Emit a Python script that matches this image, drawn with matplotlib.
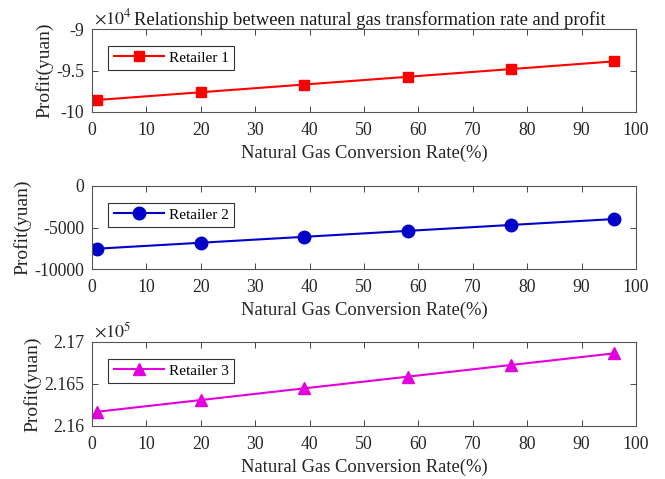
import matplotlib
matplotlib.use("Agg")
import matplotlib.pyplot as plt

plt.rcParams['font.family'] = ['Liberation Serif', 'DejaVu Serif']
plt.rcParams['mathtext.fontset'] = 'stix'

rate = [1, 20, 39, 58, 77, 96]
profit1 = [-98550, -97620, -96690, -95760, -94830, -93900]
profit2 = [-7550, -6836, -6122, -5408, -4694, -3980]
profit3 = [216170, 216309, 216448, 216587, 216726, 216865]

xticks = [0, 10, 20, 30, 40, 50, 60, 70, 80, 90, 100]
yticks1 = [-100000, -95000, -90000]
ylabels1 = ['-10', '-9.5', '-9']
yticks2 = [-10000, -5000, 0]
ylabels2 = ['-10000', '-5000', '0']
yticks3 = [216000, 216500, 217000]
ylabels3 = ['2.16', '2.165', '2.17']

fig = plt.figure(figsize=(6.65, 4.79), dpi=100)
W, H = 665, 479
def rect(l, t, r, b):
    return [l / W, 1 - b / H, (r - l) / W, (b - t) / H]

ax1 = fig.add_axes(rect(92, 29, 636, 112))
ax2 = fig.add_axes(rect(92, 186, 636, 269))
ax3 = fig.add_axes(rect(92, 342, 636, 426))

specs = [
    (ax1, profit1, '#FF0000', 's', 7, 'Retailer 1', yticks1, ylabels1, r'$\times10^{4}$'),
    (ax2, profit2, '#0000C8', 'o', 9, 'Retailer 2', yticks2, ylabels2, None),
    (ax3, profit3, '#E400DC', '^', 9, 'Retailer 3', yticks3, ylabels3, r'$\times10^{5}$'),
]

for ax, data, col, mk, ms, lab, yt, yl, off in specs:
    ax.plot(rate, data, color=col, marker=mk, markersize=ms, linewidth=1.5, label=lab)
    ax.set_xlim(0, 100)
    ax.set_ylim(yt[0], yt[-1])
    ax.set_xticks(xticks)
    ax.set_yticks(yt)
    ax.set_yticklabels(yl)
    ax.tick_params(direction='in', length=4, width=0.6, top=True, right=True,
                   labelsize=12.8, colors='#262626')
    ax.tick_params(axis='x', pad=7.5)
    ax.tick_params(axis='y', pad=5.5)
    for s in ax.spines.values():
        s.set_color('#555555')
        s.set_linewidth(0.8)
    ax.set_xlabel('Natural Gas Conversion Rate(%)', fontsize=13.4, labelpad=4,
                  color='#262626')
    ax.set_ylabel('Profit(yuan)', fontsize=14, labelpad=2, color='#262626')
    leg = ax.legend(loc='upper left', bbox_to_anchor=(0.03, 0.8), fontsize=11,
                    fancybox=False, framealpha=1, edgecolor='#333333',
                    handlelength=3.3, borderpad=0.35, handletextpad=0.3,
                    borderaxespad=0)
    leg.get_frame().set_linewidth(0.8)
    if off:
        ax.text(0.003, 1.01, off, transform=ax.transAxes, fontsize=13,
                ha='left', va='bottom', color='#262626')

ax1.set_title('Relationship between natural gas transformation rate and profit',
              fontsize=13.4, pad=3, x=0.511, color='#1a1a1a')

fig.savefig('out.png', dpi=100)
